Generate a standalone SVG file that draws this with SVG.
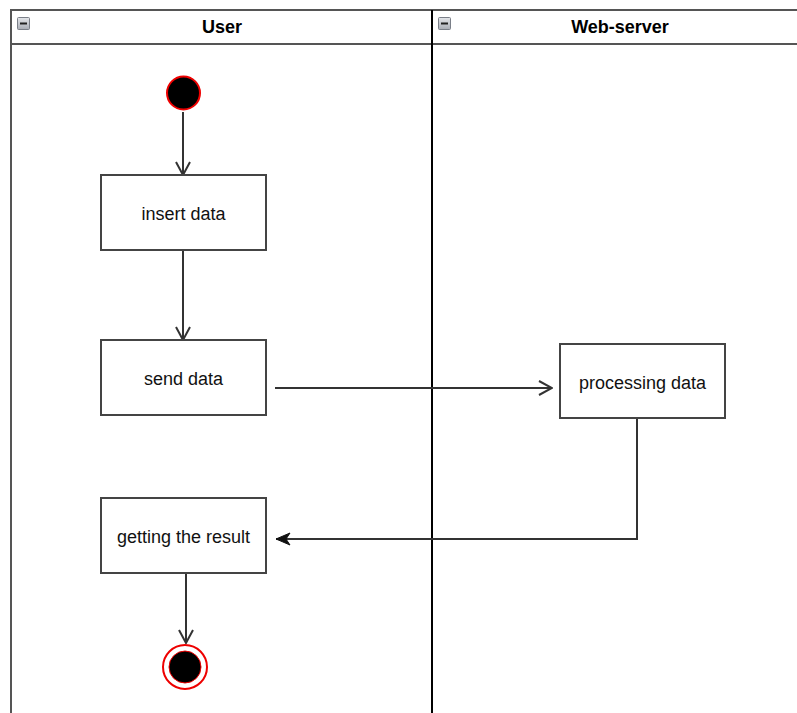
<svg xmlns="http://www.w3.org/2000/svg" width="797" height="713" viewBox="0 0 797 713">
  <defs>
    <linearGradient id="btnGrad" x1="0" y1="0" x2="0" y2="1">
      <stop offset="0" stop-color="#e4e6ea"/>
      <stop offset="1" stop-color="#a9adb5"/>
    </linearGradient>
    <marker id="openArrow" viewBox="0 0 16 16" refX="15" refY="8" markerWidth="16" markerHeight="16" markerUnits="userSpaceOnUse" orient="auto">
      <path d="M2,1 L15,8 L2,15" fill="none" stroke="#333" stroke-width="2"/>
    </marker>
    <marker id="blockArrow" viewBox="0 0 16 14" refX="15" refY="7" markerWidth="16" markerHeight="14" markerUnits="userSpaceOnUse" orient="auto">
      <path d="M1,1 L15,7 L1,13 L5,7 Z" fill="#111" stroke="#111" stroke-width="1"/>
    </marker>
  </defs>
  <style>
    .lane { fill: none; stroke: #555; stroke-width: 2; }
    .divider { stroke: #000; stroke-width: 2; }
    .head { font-family: "Liberation Sans", Arial, sans-serif; font-size: 18px; font-weight: bold; fill: #000; text-anchor: middle; }
    .box { fill: #fff; stroke: #444; stroke-width: 2; }
    .label { font-family: "Liberation Sans", Arial, sans-serif; font-size: 18px; fill: #111; text-anchor: middle; }
    .edge { fill: none; stroke: #333; stroke-width: 2; }
    .btn { fill: url(#btnGrad); stroke: #7a7f88; stroke-width: 1; }
  </style>

  <rect width="797" height="713" fill="#fff"/>

  <!-- swimlane pool -->
  <g id="pool">
    <line class="lane" x1="11" y1="10" x2="797" y2="10"/>
    <line class="lane" x1="11" y1="44" x2="797" y2="44"/>
    <line class="lane" x1="11" y1="9" x2="11" y2="713"/>
    <line class="divider" x1="432" y1="10" x2="432" y2="713"/>
  </g>

  <g id="lane-user">
    <rect class="btn" x="17.5" y="17.5" width="12" height="12" rx="1"/>
    <rect x="20" y="22.5" width="7" height="2" fill="#222"/>
    <text class="head" x="222" y="33">User</text>
  </g>

  <g id="lane-webserver">
    <rect class="btn" x="438.5" y="17.5" width="12" height="12" rx="1"/>
    <rect x="441" y="22.5" width="7" height="2" fill="#222"/>
    <text class="head" x="620" y="33">Web-server</text>
  </g>

  <!-- connectors -->
  <g id="connectors">
    <line class="edge" x1="183" y1="112" x2="183" y2="175" marker-end="url(#openArrow)"/>
    <line class="edge" x1="183" y1="250" x2="183" y2="340" marker-end="url(#openArrow)"/>
    <line class="edge" x1="275" y1="388" x2="552" y2="388" marker-end="url(#openArrow)"/>
    <polyline class="edge" points="637,418 637,539 276,539" marker-end="url(#blockArrow)"/>
    <line class="edge" x1="186" y1="573" x2="186" y2="643" marker-end="url(#openArrow)"/>
  </g>

  <!-- nodes -->
  <g id="start">
    <circle cx="183.5" cy="93" r="16.5" fill="#000" stroke="#e00" stroke-width="2"/>
  </g>

  <g id="insert-data">
    <rect class="box" x="101" y="175" width="165" height="75"/>
    <text class="label" x="183.5" y="220">insert data</text>
  </g>

  <g id="send-data">
    <rect class="box" x="101" y="340" width="165" height="75"/>
    <text class="label" x="183.5" y="385">send data</text>
  </g>

  <g id="processing-data">
    <rect class="box" x="560" y="344" width="165" height="74"/>
    <text class="label" x="642.5" y="389">processing data</text>
  </g>

  <g id="getting-result">
    <rect class="box" x="101" y="498" width="165" height="75"/>
    <text class="label" x="183.5" y="543">getting the result</text>
  </g>

  <g id="end">
    <circle cx="185" cy="667" r="22" fill="#fff" stroke="#e00" stroke-width="2"/>
    <circle cx="185" cy="667" r="16" fill="#000" stroke="#e00" stroke-width="1"/>
  </g>
</svg>
